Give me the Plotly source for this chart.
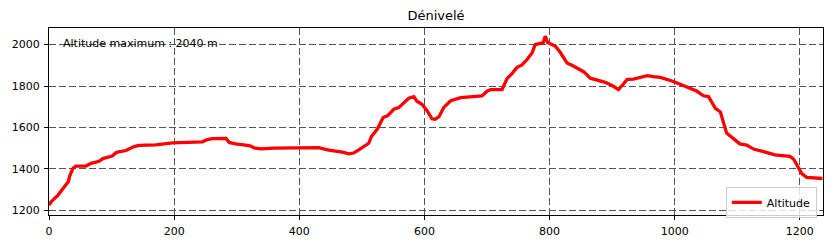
import plotly.graph_objects as go

distance = [0, 3, 8.5, 14, 19, 24, 27, 31, 33, 35.5, 38, 43, 59, 67, 80, 86, 95, 101, 108, 123, 136, 144,
            171, 197, 245, 253, 261, 283, 288, 298, 314, 321, 328, 338, 360, 399, 431, 445, 461, 471, 479,
            487, 495, 503, 511, 515, 519, 525, 530, 534, 541, 551, 559, 575, 583, 588, 596, 604, 612, 617,
            623, 631, 642, 658, 692, 700, 706, 724, 732, 740, 748, 756, 764, 772, 777, 785, 790, 793, 797,
            801, 809, 817, 828, 838, 855, 865, 876, 889, 902, 910, 918, 924, 934, 945, 956, 966, 977, 998,
            1017, 1035, 1046, 1054, 1065, 1073, 1083, 1094, 1104, 1115, 1126, 1142, 1160, 1184, 1190, 1203,
            1211, 1236]
altitude = [1225, 1240, 1257, 1272, 1292, 1312, 1325, 1340, 1365, 1388, 1402, 1414, 1414, 1427, 1437, 1450,
            1456, 1462, 1480, 1489, 1508, 1514, 1516, 1526, 1531, 1542, 1546, 1547, 1528, 1521, 1515, 1512,
            1502, 1497, 1501, 1504, 1503, 1492, 1486, 1480, 1473, 1477, 1492, 1508, 1524, 1555, 1573, 1594,
            1624, 1648, 1656, 1688, 1696, 1741, 1749, 1727, 1712, 1682, 1642, 1640, 1651, 1697, 1729, 1744,
            1752, 1775, 1783, 1783, 1836, 1860, 1890, 1902, 1928, 1960, 2000, 2004, 2010, 2041, 2010, 2004,
            1993, 1963, 1911, 1897, 1868, 1838, 1827, 1818, 1799, 1783, 1810, 1832, 1833, 1843, 1850, 1845,
            1842, 1822, 1800, 1776, 1753, 1749, 1692, 1675, 1573, 1543, 1521, 1515, 1496, 1484, 1468, 1461,
            1448, 1378, 1360, 1354]

x_ticks = [0, 200, 400, 600, 800, 1000, 1200]
y_ticks = [1200, 1400, 1600, 1800, 2000]
title_text = "Dénivelé"
series_name = "Altitude"
max_alt = 2040
note = f"Altitude maximum : {max_alt} m"

FONT = "DejaVu Sans"

fig = go.Figure()
fig.add_trace(go.Scatter(x=distance, y=altitude, mode="lines", name=series_name,
                         line=dict(color="#ff0000", width=3.3)))

axis_common = dict(showline=True, mirror=True, linecolor="black", linewidth=1,
                   ticks="outside", ticklen=4, tickwidth=1, tickcolor="black",
                   showgrid=True, gridcolor="#555555", gridwidth=1, griddash="7px,3px",
                   zeroline=False, ticklabelstandoff=2,
                   tickfont=dict(family=FONT, size=11, color="black"))

fig.update_xaxes(range=[0, 1237], tickvals=x_ticks, **axis_common)
fig.update_yaxes(range=[1178, 2080], tickvals=y_ticks, **axis_common)

fig.update_layout(
    width=836, height=250,
    margin=dict(l=48, r=13, t=28, b=29),
    paper_bgcolor="white", plot_bgcolor="white",
    font=dict(family=FONT, size=11, color="black"),
    title=dict(text=title_text, x=0.5, xref="paper", xanchor="center",
               y=1 - 15 / 250, yref="container", yanchor="middle",
               font=dict(family=FONT, size=13, color="black")),
    showlegend=True,
    legend=dict(x=0.992, y=-0.015, xanchor="right", yanchor="bottom",
                bgcolor="rgba(255,255,255,0.8)", bordercolor="#cccccc", borderwidth=1,
                font=dict(family=FONT, size=11, color="black"),
                itemwidth=30, tracegroupgap=0),
    annotations=[dict(text=note, xref="paper", yref="paper", x=0.0155, y=0.9145,
                      xanchor="left", yanchor="middle", showarrow=False,
                      font=dict(family=FONT, size=11, color="black"))],
)

fig.write_html("out.html")
